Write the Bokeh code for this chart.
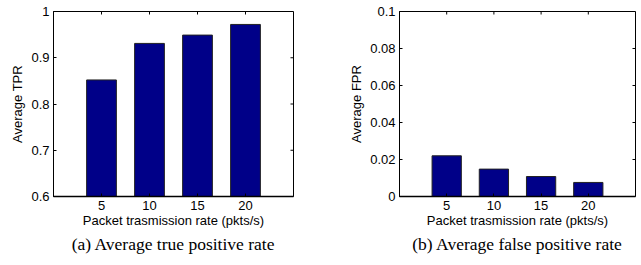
from bokeh.plotting import figure
from bokeh.layouts import row
from bokeh.models import LinearAxis, FixedTicker, Range1d, Title
from bokeh.embed import file_html
from bokeh.resources import INLINE

rates = [5, 10, 15, 20]
tpr = [0.852, 0.931, 0.949, 0.972]
fpr = [0.022, 0.0148, 0.0108, 0.0076]
tpr_ticks = [0.6, 0.7, 0.8, 0.9, 1.0]
tpr_tick_labels = ["0.6", "0.7", "0.8", "0.9", "1"]
fpr_ticks = [0.0, 0.02, 0.04, 0.06, 0.08, 0.1]
fpr_tick_labels = ["0", "0.02", "0.04", "0.06", "0.08", "0.1"]
xlabel = "Packet trasmission rate (pkts/s)"
captions = ["(a) Average true positive rate", "(b) Average false positive rate"]
ylabels = ["Average TPR", "Average FPR"]

BAR = "#000088"
SANS = "Liberation Sans"
SERIF = "Liberation Serif"
FH = 185
TICK = 3


def panel(values, yr, yticks, ylabs, ylabel, caption, border_left, border_right, fw):
    xs = list(range(1, len(rates) + 1))
    xr = (0, len(rates) + 1)
    p = figure(frame_width=fw, frame_height=FH, output_backend="svg",
               toolbar_location=None, x_range=Range1d(*xr),
               y_range=Range1d(*yr), min_border_left=border_left,
               min_border_right=border_right, min_border_top=11,
               min_border_bottom=4, x_axis_location=None, y_axis_location=None)
    p.xgrid.visible = False
    p.ygrid.visible = False
    p.outline_line_color = "black"
    p.outline_line_width = 1
    p.background_fill_color = "white"
    p.border_fill_color = "white"
    p.vbar(x=xs, top=values, bottom=yr[0], width=0.62, fill_color=BAR,
           line_color="#222222", line_width=1)

    # inward ticks on the top and right sides of the box
    dy = TICK * (yr[1] - yr[0]) / FH
    dx = TICK * (xr[1] - xr[0]) / fw
    p.segment(x0=xs, x1=xs, y0=[yr[1]] * len(xs), y1=[yr[1] - dy] * len(xs),
              line_color="black", line_width=1)
    p.segment(x0=[xr[1]] * len(yticks), x1=[xr[1] - dx] * len(yticks),
              y0=yticks, y1=yticks, line_color="black", line_width=1)

    xov = {x: str(r) for x, r in zip(xs, rates)}
    yov = {t: l for t, l in zip(yticks, ylabs)}

    xb = LinearAxis(ticker=FixedTicker(ticks=xs), major_label_overrides=xov,
                    axis_label=xlabel)
    yl = LinearAxis(ticker=FixedTicker(ticks=yticks), major_label_overrides=yov,
                    axis_label=ylabel)
    for ax in (xb, yl):
        ax.major_tick_in = TICK
        ax.major_tick_out = 0
        ax.minor_tick_in = 0
        ax.minor_tick_out = 0
        ax.axis_line_color = "black"
        ax.major_tick_line_color = "black"
        ax.major_label_text_font = SANS
        ax.major_label_text_color = "black"
        ax.major_label_text_font_size = "13px"
        ax.axis_label_text_font = SANS
        ax.axis_label_text_font_style = "normal"
        ax.axis_label_text_font_size = "13px"
        ax.axis_label_text_color = "black"
    xb.major_label_standoff = 4
    yl.major_label_standoff = 4
    xb.axis_label_standoff = 0
    yl.axis_label_standoff = 3
    xb.axis_line_width = 1.5
    p.add_layout(xb, "below")
    p.add_layout(yl, "left")
    t = Title(text=caption, align="center", text_font=SERIF,
              text_font_size="17.5px", text_font_style="normal",
              text_color="black", standoff=2)
    p.add_layout(t, "below")
    return p


p1 = panel(tpr, (0.6, 1.0), tpr_ticks, tpr_tick_labels, ylabels[0], captions[0], 53, 25, 240)
p2 = panel(fpr, (0.0, 0.1), fpr_ticks, fpr_tick_labels, ylabels[1], captions[1], 81, 4, 236)
layout = row(p1, p2, spacing=0)

open("out.html", "w").write(file_html(layout, INLINE))
